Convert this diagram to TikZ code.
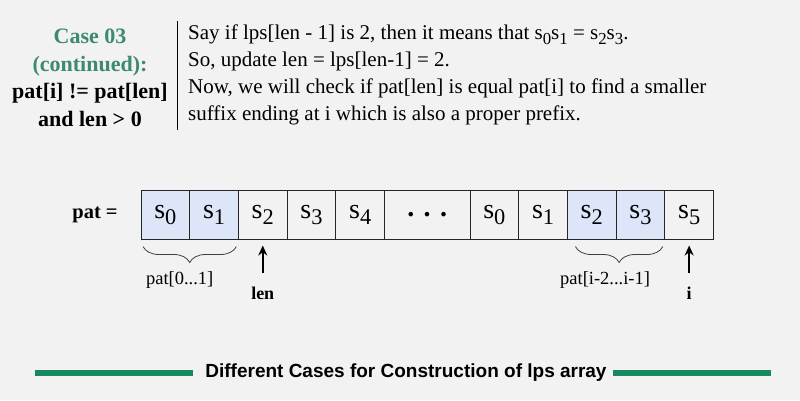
\documentclass[tikz,border=0pt]{standalone}
\usepackage{fontspec}
\setmainfont{Liberation Serif}
\newfontfamily\bannerfont{Liberation Sans}
\usetikzlibrary{arrows.meta,positioning,decorations.pathreplacing}
\definecolor{casegreen}{HTML}{3D8B6D}
\definecolor{bargreen}{HTML}{168A5F}
\definecolor{cellblue}{HTML}{DCE6F8}
\definecolor{bggray}{HTML}{F2F2F2}
\newcommand{\sx}[2]{#1\raisebox{-0.22em}{\scalebox{0.8}{#2}}}
\tikzset{
  cell/.style={draw=black!85, line width=0.9pt, minimum width=48.7pt, minimum height=49pt, inner sep=0pt, outer sep=0pt, font=\fontsize{28}{28}\selectfont, anchor=west},
  hcell/.style={cell, fill=cellblue},
  ptr/.style={-{Stealth[length=10pt,width=9pt]}, line width=1.7pt},
  brc/.style={decorate, decoration={brace, mirror, amplitude=16pt}, line width=0.8pt, black!75},
  lbl/.style={font=\fontsize{18.5}{18.5}\selectfont, inner sep=0pt},
  blbl/.style={font=\bfseries\fontsize{18}{18}\selectfont, inner sep=0pt},
  bar/.style={bargreen, line width=5.5pt}
}
\begin{document}
\begin{tikzpicture}[x=1pt,y=-1pt]
\fill[bggray] (0,0) rectangle (800,400);
\useasboundingbox (0,0) rectangle (800,400);
% case heading and explanation
\node[align=center, font=\bfseries\fontsize{22}{27.5}\selectfont, inner sep=0pt] (case) at (90,78) {\textcolor{casegreen}{Case 03}\\ \textcolor{casegreen}{(continued):}\\ pat[i] != pat[len]\\ and len > 0};
\node[anchor=north west, align=left, font=\fontsize{21}{27}\selectfont, inner xsep=11pt, inner ysep=4pt] (desc) at (177,21) {Say if lps[len - 1] is 2, then it means that \sx{s}{0}\sx{s}{1} = \sx{s}{2}\sx{s}{3}.\\ So, update len = lps[len-1] = 2.\\ Now, we will check if pat[len] is equal pat[i] to find a smaller\\ suffix ending at i which is also a proper prefix.};
\draw[line width=1pt] (desc.north west) -- (desc.south west);
% the pattern array
\node[font=\bfseries\fontsize{20.5}{20.5}\selectfont, inner sep=0pt] (patlbl) at (95,215) {pat =};
\node[hcell] (c1) at (141,215) {\sx{s}{0}};
\node[hcell, right=0pt of c1] (c2) {\sx{s}{1}};
\node[cell, right=0pt of c2] (c3) {\sx{s}{2}};
\node[cell, right=0pt of c3] (c4) {\sx{s}{3}};
\node[cell, right=0pt of c4] (c5) {\sx{s}{4}};
\node[cell, right=0pt of c5, minimum width=85.5pt] (dots) {\textbf{.\,\,.\,\,.}};
\node[cell, right=0pt of dots] (c6) {\sx{s}{0}};
\node[cell, right=0pt of c6] (c7) {\sx{s}{1}};
\node[hcell, right=0pt of c7] (c8) {\sx{s}{2}};
\node[hcell, right=0pt of c8] (c9) {\sx{s}{3}};
\node[cell, right=0pt of c9] (c10) {\sx{s}{5}};
% prefix and suffix braces
\draw[brc] ([xshift=2pt,yshift=-7pt]c1.south west) -- ([xshift=-2pt,yshift=-7pt]c2.south east);
\draw[brc] ([xshift=8pt,yshift=-7pt]c8.south west) -- ([xshift=-2pt,yshift=-7pt]c9.south east);
\node[lbl] (pre) at ([xshift=-10pt,yshift=-41pt]c1.south east) {pat[0...1]};
\node[lbl] (suf) at ([xshift=-11pt,yshift=-41pt]c8.south east) {pat[i-2...i-1]};
% pointers
\node[blbl] (lenlbl) at ([yshift=-54pt]c3.south) {len};
\node[blbl] (ilbl) at ([yshift=-54pt]c10.south) {i};
\draw[ptr, shorten <=14pt, shorten >=6pt] (lenlbl.north) -- (lenlbl.north |- c3.south);
\draw[ptr, shorten <=14pt, shorten >=6pt] (ilbl.north) -- (ilbl.north |- c10.south);
% banner
\node[font=\bannerfont\bfseries\fontsize{19}{19}\selectfont, inner sep=0pt] (banner) at (406,373) {Different Cases for Construction of lps array};
\coordinate (barL) at (35,373);
\coordinate (barR) at (771,373);
\draw[bar, shorten >=12pt] (barL) -- (banner.west);
\draw[bar, shorten >=6pt] (barR) -- (banner.east);
\end{tikzpicture}
\end{document}
